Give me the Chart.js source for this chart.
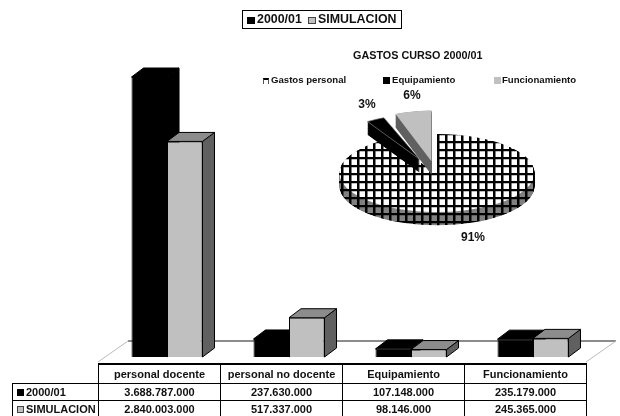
<!DOCTYPE html>
<html>
<head>
<meta charset="utf-8">
<title>Gastos curso 2000/01</title>
<script src="https://cdn.jsdelivr.net/npm/chart.js@4"></script>
<style>
  html, body { margin: 0; padding: 0; background: #fff; overflow: hidden; }
  body { width: 620px; height: 416px; position: relative; font-family: "Liberation Sans", Arial, sans-serif; font-weight: bold; color: #111; }
  canvas { position: absolute; }
  #barChart { left: 0; top: 0; }
  #pieChart { left: 317px; top: 53px; }
  .abs { position: absolute; white-space: nowrap; line-height: 1; }
  .swatch { position: absolute; box-sizing: border-box; }

  /* leyenda superior */
  #topLegend { left: 242px; top: 10px; width: 160px; height: 19px; border: 1px solid #000; box-sizing: border-box; font-size: 12.4px; }
  #topLegend span { position: absolute; top: 2px; }

  /* tabla de datos */
  #dataTable { position: absolute; left: 12px; top: 363px; border-collapse: collapse; table-layout: fixed; font-size: 11px; }
  #dataTable td { border: 1px solid #000; padding: 0; text-align: center; height: 16px; position: relative; }
  #dataTable tr:first-child td { height: 18px; border-top-width: 2px; }
  #dataTable td.blank { border: none; border-right: 1px solid #000; border-bottom: 1px solid #000; }
  #dataTable td.rowHead { text-align: left; padding-left: 13px; width: 72px; }
  #dataTable td.val { width: 121px; }
  #dataTable tr:last-child td { border-bottom: none; }
  #dataTable .swatch { left: 4px; top: 5px; width: 7px; height: 7px; }

  .pieLegend { font-size: 9.6px; top: 75px; }
  .pct { font-size: 12px; transform: translate(-50%, -50%); }
</style>
</head>
<body>
<canvas id="barChart" width="620" height="416"></canvas>
<canvas id="pieChart" width="240" height="240"></canvas>

<div id="topLegend" class="abs"></div>
<table id="dataTable"></table>

<div class="abs" id="pieTitle" style="left:353px;top:50px;font-size:10.8px"></div>

<div class="swatch" style="left:263px;top:78px;width:6px;height:6px;border-top:2px solid #000;border-left:1px solid #555;border-right:1px solid #555"></div>
<div class="abs pieLegend" id="pieLegend0" style="left:271px"></div>
<div class="swatch" style="left:383px;top:77px;width:7px;height:7px;background:#000"></div>
<div class="abs pieLegend" id="pieLegend1" style="left:392px"></div>
<div class="swatch" style="left:494px;top:77px;width:7px;height:7px;background:#c0c0c0"></div>
<div class="abs pieLegend" id="pieLegend2" style="left:502px"></div>

<div class="abs pct" id="pct0" style="left:473px;top:237px"></div>
<div class="abs pct" id="pct1" style="left:367px;top:104px"></div>
<div class="abs pct" id="pct2" style="left:412px;top:95px"></div>

<script>
  const categories = ["personal docente", "personal no docente", "Equipamiento", "Funcionamiento"];
  const seriesNames = ["2000/01", "SIMULACION"];
  const values2000 = [3688787000, 237630000, 107148000, 235179000];
  const valuesSimulacion = [2840003000, 517337000, 98146000, 245365000];

  const pieTitle = "GASTOS CURSO 2000/01";
  const pieLabels = ["Gastos personal", "Equipamiento", "Funcionamiento"];
  const pieValues = [91, 3, 6];
  const pieExplode = [0, 38, 30];
  const pieStretch = [1, 1.15, 1.3];

  const formatMiles = (v) => String(v).replace(/\B(?=(\d{3})+$)/g, ".");

  // leyenda y tabla
  function buildLegendAndTable() {
    document.getElementById("topLegend").innerHTML =
      `<div class="swatch" style="left:4px;top:6px;width:8px;height:7px;background:#000"></div>` +
      `<span style="left:14px">${seriesNames[0]}</span>` +
      `<div class="swatch" style="left:65px;top:6px;width:8px;height:7px;background:#c0c0c0;border:1px solid #444"></div>` +
      `<span style="left:75px">${seriesNames[1]}</span>`;

    let html = `<tr><td class="blank" style="width:85px"></td>`;
    categories.forEach((c) => { html += `<td class="val">${c}</td>`; });
    html += "</tr>";
    [values2000, valuesSimulacion].forEach((serie, i) => {
      const sw = i === 0 ? "background:#000" : "background:#c0c0c0;border:1px solid #444";
      html += `<tr><td class="rowHead"><div class="swatch" style="${sw}"></div>${seriesNames[i]}</td>`;
      serie.forEach((v) => { html += `<td class="val">${formatMiles(v)}</td>`; });
      html += "</tr>";
    });
    document.getElementById("dataTable").innerHTML = html;

    document.getElementById("pieTitle").textContent = pieTitle;
    pieLabels.forEach((l, i) => {
      document.getElementById("pieLegend" + i).textContent = l;
      document.getElementById("pct" + i).textContent = pieValues[i] + "%";
    });
  }

  // caras 3D de las barras y suelo
  const DEPTH_X = 12;
  const DEPTH_Y = 9;

  function drawFaces(ctx, meta, isBlack) {
    meta.data.forEach((bar) => {
      const left = bar.x - bar.width / 2;
      const right = bar.x + bar.width / 2;
      ctx.save();
      ctx.strokeStyle = "#000";
      ctx.lineWidth = 1;
      ctx.fillStyle = isBlack ? "#000" : "#606060";
      ctx.beginPath();
      ctx.moveTo(right, bar.y);
      ctx.lineTo(right + DEPTH_X, bar.y - DEPTH_Y);
      ctx.lineTo(right + DEPTH_X, bar.base - DEPTH_Y);
      ctx.lineTo(right, bar.base);
      ctx.closePath();
      ctx.fill();
      ctx.stroke();
      ctx.fillStyle = isBlack ? "#000" : "#8c8c8c";
      ctx.beginPath();
      ctx.moveTo(left, bar.y);
      ctx.lineTo(left + DEPTH_X, bar.y - DEPTH_Y);
      ctx.lineTo(right + DEPTH_X, bar.y - DEPTH_Y);
      ctx.lineTo(right, bar.y);
      ctx.closePath();
      ctx.fill();
      ctx.stroke();
      if (isBlack) {
        ctx.strokeStyle = "#777";
        ctx.beginPath();
        ctx.moveTo(right + DEPTH_X + 0.5, bar.y - DEPTH_Y);
        ctx.lineTo(right + DEPTH_X + 0.5, bar.base - DEPTH_Y);
        ctx.stroke();
      }
      ctx.restore();
    });
  }

  const bar3d = {
    id: "bar3d",
    beforeDatasetsDraw(chart) {
      const { ctx, chartArea } = chart;
      const floorY = chartArea.bottom - 16;
      ctx.save();
      ctx.strokeStyle = "#666";
      ctx.lineWidth = 1.5;
      ctx.beginPath();
      ctx.moveTo(128, floorY);
      ctx.lineTo(616, floorY);
      ctx.stroke();
      ctx.strokeStyle = "#bbb";
      ctx.lineWidth = 1;
      ctx.beginPath();
      ctx.moveTo(98, 362);
      ctx.lineTo(128, floorY);
      ctx.moveTo(586, 362);
      ctx.lineTo(616, floorY);
      ctx.stroke();
      ctx.restore();
    },
    // Chart.js pinta el dataset 1 primero; el negro tiene que quedar detras
    beforeDatasetDraw(chart, args) {
      const { ctx } = chart;
      if (args.index === 0) return false;
      const blackMeta = chart.getDatasetMeta(0);
      drawFaces(ctx, blackMeta, true);
      blackMeta.data.forEach((bar) => bar.draw(ctx));
      drawFaces(ctx, args.meta, false);
    },
  };

  function initializeBarChart() {
    return new Chart(document.getElementById("barChart"), {
      type: "bar",
      data: {
        labels: categories,
        datasets: [
          { label: seriesNames[0], data: values2000, backgroundColor: "#000", borderColor: "#000", borderWidth: 1 },
          { label: seriesNames[1], data: valuesSimulacion, backgroundColor: "#c0c0c0", borderColor: "#000", borderWidth: 1 },
        ],
      },
      options: {
        responsive: false,
        animation: false,
        layout: { padding: { left: 106, right: 26, top: 77, bottom: 59 } },
        categoryPercentage: 0.582,
        barPercentage: 1,
        plugins: { legend: { display: false }, tooltip: { enabled: false } },
        scales: {
          x: { display: false },
          y: { display: false, min: 0, max: Math.max(...values2000) },
        },
      },
      plugins: [bar3d],
    });
  }

  // tarta: se achata con el ctx, la trama va mas alta para compensar
  const PIE_SQUASH = 0.4;
  const PIE_DEPTH = 33;

  function makeHatch(bg) {
    const tile = document.createElement("canvas");
    tile.width = 8;
    tile.height = 20;
    const c = tile.getContext("2d");
    c.fillStyle = bg;
    c.fillRect(0, 0, 8, 20);
    c.fillStyle = "#000";
    c.fillRect(0, 0, 2.5, 20);
    c.fillRect(0, 0, 8, 6);
    return c.createPattern(tile, "repeat");
  }

  function wedgePath(ctx, arc, dy) {
    const { x, y, startAngle, endAngle, outerRadius } = arc.getProps(["x", "y", "startAngle", "endAngle", "outerRadius"]);
    ctx.beginPath();
    ctx.moveTo(x, y + dy);
    ctx.arc(x, y + dy, outerRadius, startAngle, endAngle);
    ctx.closePath();
  }

  const pieSides = [makeHatch("#808080"), "#000", "#606060"];

  const pie3d = {
    id: "pie3d",
    beforeDatasetDraw(chart, args) {
      const { ctx } = chart;
      const arcs = args.meta.data;
      const cx = arcs[0].x;
      const cy = arcs[0].y;
      ctx.save();
      ctx.translate(cx, cy);
      ctx.scale(1, PIE_SQUASH);
      ctx.translate(-cx, -cy);
      arcs.forEach((arc, i) => {
        const mid = (arc.startAngle + arc.endAngle) / 2;
        ctx.save();
        ctx.translate(Math.cos(mid) * pieExplode[i], Math.sin(mid) * pieExplode[i]);
        ctx.translate(cx, cy);
        ctx.scale(1, pieStretch[i]);
        ctx.translate(-cx, -cy);
        ctx.fillStyle = pieSides[i];
        for (let d = PIE_DEPTH / pieStretch[i]; d > 0; d--) {
          wedgePath(ctx, arc, d);
          ctx.fill();
        }
        arc.draw(ctx);
        ctx.restore();
      });
      ctx.restore();
      return false;
    },
  };

  function initializePieChart() {
    return new Chart(document.getElementById("pieChart"), {
      type: "pie",
      data: {
        labels: pieLabels,
        datasets: [
          {
            data: pieValues,
            backgroundColor: [makeHatch("#fff"), "#000", "#c0c0c0"],
            borderColor: ["#000", "#808080", "#c0c0c0"],
            borderWidth: [0, 1, 0],
            radius: 97.5,
          },
        ],
      },
      options: {
        responsive: false,
        animation: false,
        plugins: { legend: { display: false }, tooltip: { enabled: false } },
      },
      plugins: [pie3d],
    });
  }

  document.addEventListener("DOMContentLoaded", () => {
    buildLegendAndTable();
    initializeBarChart();
    initializePieChart();
  });
</script>
</body>
</html>
